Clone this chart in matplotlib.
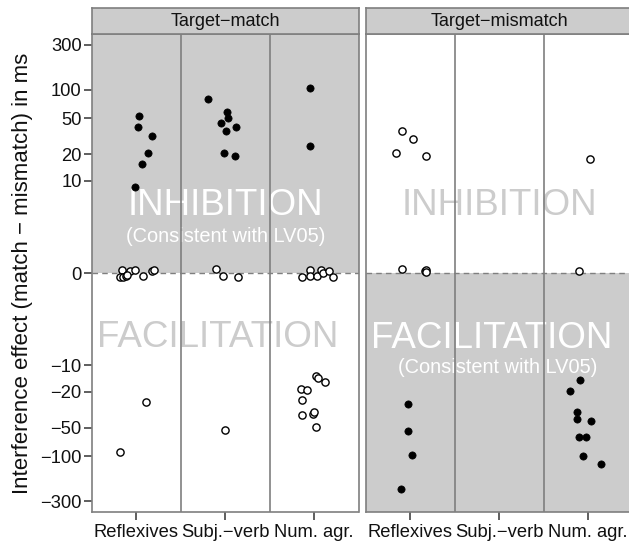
import numpy as np
import matplotlib
matplotlib.use('Agg')
from matplotlib import pyplot as plt

plt.rcParams['font.family'] = ['Liberation Sans', 'DejaVu Sans']

categories = ['Reflexives', 'Subj.\u2212verb', 'Num. agr.']
panels = ['Target\u2212match', 'Target\u2212mismatch']
ytick_values = [-300, -100, -50, -20, -10, 0, 10, 20, 50, 100, 300]
ytick_labels = ['\u2212300', '\u2212100', '\u221250', '\u221220', '\u221210',
                '0', '10', '20', '50', '100', '300']

# Target-match: category index, horizontal jitter, effect in ms, filled marker
match_cat = [1, 1, 1, 1, 1, 1,
             2, 2, 2, 2, 2, 2, 2, 2,
             3, 3,
             1, 1, 1, 1, 1, 1, 1, 1, 1, 1,
             2, 2, 2,
             3, 3, 3, 3, 3, 3, 3, 3,
             1, 1,
             2,
             3, 3, 3, 3, 3, 3, 3, 3, 3, 3]
match_jitter = [0.025, 0.017, 0.17, 0.13, 0.065, -0.013,
                -0.19, 0.015, 0.034, -0.053, 0.12, 0.011, -0.015, 0.105,
                -0.043, -0.05,
                -0.16, -0.19, -0.15, -0.12, -0.076, -0.013, 0.073, 0.18, 0.197, -0.107,
                -0.10, -0.022, 0.143,
                -0.14, -0.05, -0.05, 0.036, 0.073, 0.10, 0.163, 0.211,
                0.11, -0.19,
                -0.003,
                0.025, 0.047, 0.126, -0.148, -0.076, -0.137, -0.133, -0.017, -0.002, 0.025]
match_value = [53, 39.8, 32, 21, 15.8, 8.4,
               80.9, 58, 50.5, 44.6, 40.4, 36, 20.8, 19.3,
               106, 24.9,
               0.10, -0.122, -0.112, -0.09, 0.068, 0.09, -0.103, 0.068, 0.10, -0.065,
               0.11, -0.09, -0.112,
               -0.128, 0.10, -0.082, -0.082, 0.085, 0.01, 0.055, -0.112,
               -26.2, -91.6,
               -52.3,
               -13.2, -14.1, -15.8, -18.7, -19.4, -24.9, -36.6, -35.4, -34, -48.9]
match_filled = [True] * 16 + [False] * 34

# Target-mismatch
mismatch_cat = [1, 1, 1, 1,
                1, 1, 1, 1,
                3, 3,
                1, 1, 1, 1,
                3, 3, 3, 3, 3, 3, 3, 3, 3]
mismatch_jitter = [-0.09, 0.025, -0.16, 0.18,
                   -0.09, 0.16, 0.18, 0.17,
                   0.02, -0.10,
                   -0.03, -0.03, 0.02, -0.11,
                   -0.09, -0.2, -0.13, -0.125, 0.03, -0.1, -0.02, -0.06, 0.15]
mismatch_value = [36.6, 29.7, 20.6, 19.3,
                  0.109, 0.047, 0.077, 0.017,
                  17.6, 0.047,
                  -27.5, -53.6, -97, -224,
                  -14.8, -19.9, -33.4, -39.8, -41.9, -62.2, -62.2, -101, -121]
mismatch_filled = [False] * 10 + [True] * 13

GRAY_BG = '#cccccc'
LINE_GRAY = '#7f7f7f'
YLIM = 391


def fwd(y):
    return np.sign(y) * np.log10(1 + np.abs(y) / 1.2)


def inv(y):
    return np.sign(y) * 1.2 * (10 ** np.abs(y) - 1)


def draw_panel(ax, strip_ax, title, cat, jitter, value, filled, shade_top,
               texts):
    ax.set_yscale('function', functions=(fwd, inv))
    ax.set_ylim(-YLIM, YLIM)
    ax.set_xlim(0.5, 3.5)
    if shade_top:
        ax.axhspan(0, YLIM, color=GRAY_BG, lw=0, zorder=0)
    else:
        ax.axhspan(-YLIM, 0, color=GRAY_BG, lw=0, zorder=0)

    trans = ax.get_xaxis_transform()
    for x, y, s, size, col in texts:
        ax.text(x, y, s, transform=trans, ha='center', va='baseline',
                fontsize=size, color=col, zorder=1)

    for xv in [1.5, 2.5]:
        ax.axvline(xv, color=LINE_GRAY, lw=1.2, zorder=2)
    ax.axhline(0, color=LINE_GRAY, lw=1, ls=(0, (4, 3)), zorder=2)

    x = np.array(cat) + np.array(jitter)
    y = np.array(value)
    f = np.array(filled)
    ax.plot(x[f], y[f], 'o', ms=5.2, mfc='black', mec='black', mew=0.5,
            ls='none', zorder=4)
    ax.plot(x[~f], y[~f], 'o', ms=5.2, mfc='white', mec='black', mew=1,
            ls='none', zorder=4)

    ax.set_xticks([1, 2, 3])
    ax.set_xticklabels(categories)
    ax.set_yticks(ytick_values)
    ax.set_yticklabels(ytick_labels)
    ax.minorticks_off()
    ax.tick_params(length=5.5, width=1.1, color='#333333', labelcolor='#111111',
                   labelsize=13.2)
    ax.tick_params(axis='x', pad=3)
    ax.tick_params(axis='y', pad=2)
    for sp in ax.spines.values():
        sp.set_color(LINE_GRAY)
        sp.set_linewidth(1.2)

    strip_ax.set_facecolor(GRAY_BG)
    strip_ax.set_xticks([])
    strip_ax.set_yticks([])
    for sp in strip_ax.spines.values():
        sp.set_color(LINE_GRAY)
        sp.set_linewidth(1.2)
    strip_ax.text(0.5, 0.5, title, transform=strip_ax.transAxes, ha='center',
                  va='center', fontsize=13, color='#111111')


fig = plt.figure(figsize=(6.29, 5.46), dpi=100)
pw = 266.5 / 629
ph = 478 / 546
pb = 34 / 546
sh = 26 / 546
ax1 = fig.add_axes([92 / 629, pb, pw, ph])
ax2 = fig.add_axes([366 / 629, pb, pw, ph])
s1 = fig.add_axes([92 / 629, pb + ph, pw, sh])
s2 = fig.add_axes([366 / 629, pb + ph, pw, sh])

draw_panel(ax1, s1, panels[0], match_cat, match_jitter, match_value,
           match_filled, True,
           [(2, 0.621, 'INHIBITION', 26.5, 'white'),
            (2, 0.5655, '(Consistent with LV05)', 14.4, 'white'),
            (1.92, 0.346, 'FACILITATION', 26.5, GRAY_BG)])
draw_panel(ax2, s2, panels[1], mismatch_cat, mismatch_jitter, mismatch_value,
           mismatch_filled, False,
           [(2, 0.621, 'INHIBITION', 26.5, GRAY_BG),
            (1.92, 0.344, 'FACILITATION', 26.5, 'white'),
            (1.98, 0.290, '(Consistent with LV05)', 14.4, 'white')])
ax2.tick_params(axis='y', left=False, labelleft=False)

fig.text(0.035, 0.5, 'Interference effect (match \u2212 mismatch) in ms',
         rotation=90, ha='center', va='center', fontsize=16,
         color='#111111')

fig.savefig('out.png', dpi=100)
